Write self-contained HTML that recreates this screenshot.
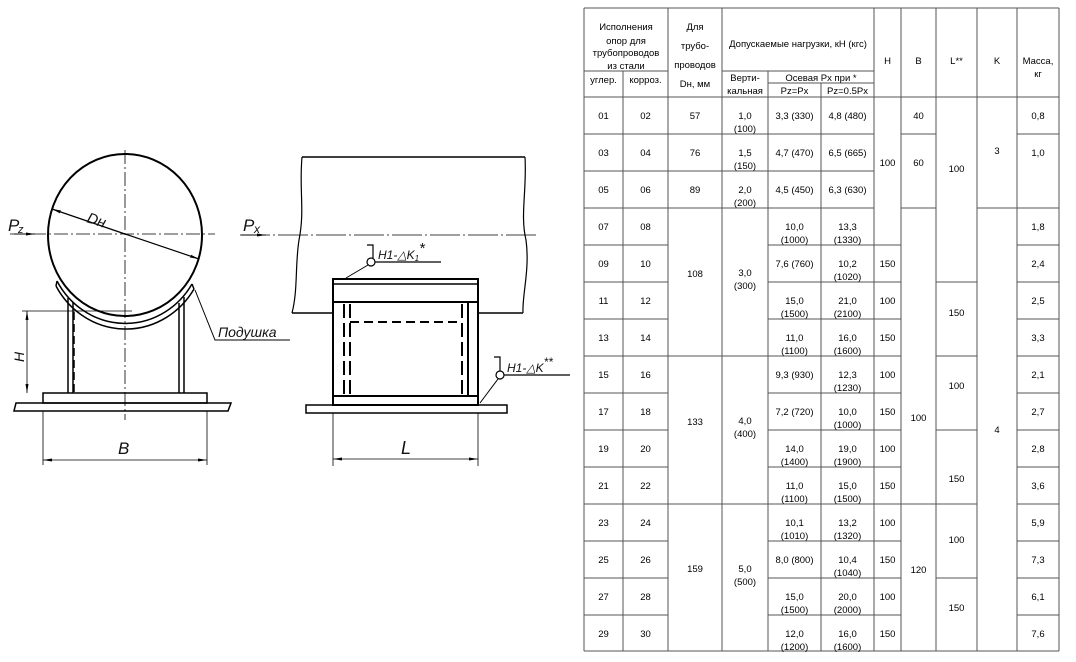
<!DOCTYPE html>
<html><head><meta charset="utf-8"><style>
html,body{margin:0;padding:0;background:#fff;}
svg{display:block;}
.t text{font-family:"Liberation Sans",sans-serif;font-size:9.5px;fill:#000;text-anchor:middle;}
.d text{font-family:"Liberation Sans",sans-serif;font-style:italic;fill:#111;}
</style></head><body>
<svg width="1076" height="662" viewBox="0 0 1076 662" xmlns="http://www.w3.org/2000/svg">
<defs>
<marker id="ar" markerWidth="10" markerHeight="6" refX="9" refY="3" orient="auto" markerUnits="userSpaceOnUse"><path d="M0,1.5 L9,3 L0,4.5 z" fill="#000"/></marker>
<marker id="al" markerWidth="10" markerHeight="6" refX="1" refY="3" orient="auto" markerUnits="userSpaceOnUse"><path d="M10,1.5 L1,3 L10,4.5 z" fill="#000"/></marker>
</defs>

<!-- LEFT VIEW -->
<g class="d" stroke="#000" fill="none">
<line x1="125" y1="150" x2="125" y2="420" stroke-width="0.8" stroke-dasharray="14,3,2,3"/>
<line x1="10" y1="234" x2="215" y2="234" stroke-width="0.8" stroke-dasharray="14,3,2,3"/>
<ellipse cx="125" cy="235" rx="77" ry="81" stroke-width="2"/>
<line x1="52" y1="209" x2="125" y2="234" stroke-width="1.2" marker-start="url(#al)"/>
<line x1="125" y1="234" x2="199" y2="259" stroke-width="1.2" marker-end="url(#ar)"/>
<path d="M57,281 A78,82 0 0 0 192,284" stroke-width="1.5"/>
<path d="M56,286 A80,84 0 0 0 194,289" stroke-width="1.5"/>
<line x1="56" y1="286" x2="57" y2="281" stroke-width="1.5"/>
<line x1="194" y1="289" x2="192" y2="284" stroke-width="1.5"/>
<line x1="68" y1="298" x2="68" y2="393" stroke-width="1.5"/>
<line x1="73" y1="302" x2="73" y2="393" stroke-width="1.5"/>
<line x1="74" y1="312" x2="74" y2="393" stroke-width="1.5" stroke-dasharray="8,4"/>
<line x1="179" y1="303" x2="179" y2="393" stroke-width="1.5"/>
<line x1="184" y1="297" x2="184" y2="393" stroke-width="1.5"/>
<rect x="43" y="393" width="164" height="10" stroke-width="1.5"/>
<path d="M16,403 L231,403 L228,411 L14,411 Z" stroke-width="1.5"/>
<line x1="22" y1="311" x2="132" y2="311" stroke-width="0.8"/>
<line x1="27" y1="311" x2="27" y2="393" stroke-width="0.8" marker-start="url(#al)" marker-end="url(#ar)"/>
<line x1="43" y1="411" x2="43" y2="465" stroke-width="0.8"/>
<line x1="207" y1="411" x2="207" y2="465" stroke-width="0.8"/>
<line x1="43" y1="460" x2="207" y2="460" stroke-width="0.8" marker-start="url(#al)" marker-end="url(#ar)"/>
<polyline points="195,290 215,340 290,340" stroke-width="1"/>
<line x1="14" y1="234" x2="35" y2="234" stroke-width="1" marker-end="url(#ar)"/>
</g>
<g class="d">
<text x="8" y="231" font-size="17">P</text><text x="18" y="233" font-size="11">z</text>
<text x="86" y="222" font-size="15" transform="rotate(18 86 222)">Dн</text>
<text x="24" y="362" font-size="14" transform="rotate(-90 24 362)">H</text>
<text x="118" y="454" font-size="17">B</text>
<text x="218" y="337" font-size="14">Подушка</text>
</g>

<!-- RIGHT VIEW -->
<g stroke="#000" fill="none">
<line x1="302" y1="157" x2="525" y2="157" stroke-width="1.5"/>
<path d="M302,157 C299,190 305,210 299,240 C295,265 298,290 292,313" stroke-width="1.2"/>
<path d="M525,157 C527,190 520,215 526,240 C530,270 522,295 523,313" stroke-width="1.2"/>
<line x1="292" y1="313" x2="333" y2="313" stroke-width="1.5"/>
<line x1="478" y1="313" x2="523" y2="313" stroke-width="1.5"/>
<line x1="240" y1="235" x2="538" y2="235" stroke-width="0.8" stroke-dasharray="30,3,2,3"/>
<line x1="241" y1="235" x2="266" y2="235" stroke-width="1" marker-end="url(#ar)"/>
<rect x="333" y="279" width="145" height="126" stroke-width="2"/>
<line x1="333" y1="284" x2="478" y2="284" stroke-width="1.5"/>
<line x1="333" y1="302" x2="478" y2="302" stroke-width="2"/>
<line x1="333" y1="396" x2="478" y2="396" stroke-width="2"/>
<line x1="350" y1="322" x2="462" y2="322" stroke-width="2" stroke-dasharray="9,5"/>
<line x1="344" y1="304" x2="344" y2="395" stroke-width="2" stroke-dasharray="14,5"/>
<line x1="350" y1="304" x2="350" y2="395" stroke-width="2" stroke-dasharray="14,5"/>
<line x1="462" y1="304" x2="462" y2="395" stroke-width="2" stroke-dasharray="14,5"/>
<line x1="468" y1="302" x2="468" y2="396" stroke-width="2"/>
<rect x="306" y="405" width="201" height="8" stroke-width="1.5"/>
<line x1="333" y1="413" x2="333" y2="466" stroke-width="0.8"/>
<line x1="478" y1="413" x2="478" y2="466" stroke-width="0.8"/>
<line x1="333" y1="459" x2="478" y2="459" stroke-width="0.8" marker-start="url(#al)" marker-end="url(#ar)"/>
<circle cx="371" cy="262" r="4" stroke-width="1.2"/>
<polyline points="367,245 373,245 373,258" stroke-width="1.2"/>
<line x1="375" y1="262" x2="441" y2="262" stroke-width="1.2"/>
<line x1="368" y1="265" x2="346" y2="278" stroke-width="1"/>
<circle cx="500" cy="375" r="4" stroke-width="1.2"/>
<polyline points="494,357 500,357 500,371" stroke-width="1.2"/>
<line x1="504" y1="375" x2="570" y2="375" stroke-width="1.2"/>
<line x1="498" y1="379" x2="480" y2="403" stroke-width="1"/>
</g>
<g class="d">
<text x="243" y="231" font-size="17">P</text><text x="254" y="233" font-size="12">x</text>
<text x="378" y="259" font-size="12">H1-△K<tspan font-size="8" dy="2">1</tspan><tspan font-size="15" dy="-8">*</tspan></text>
<text x="507" y="372" font-size="12">H1-△K<tspan font-size="12" dy="-6">**</tspan></text>
<text x="401" y="454" font-size="18">L</text>
</g>

<!-- TABLE -->
<g stroke="#555" stroke-width="1" fill="none">
<line x1="584" y1="8" x2="584" y2="651"/>
<line x1="623" y1="71" x2="623" y2="651"/>
<line x1="668" y1="8" x2="668" y2="651"/>
<line x1="722" y1="8" x2="722" y2="651"/>
<line x1="768" y1="71" x2="768" y2="651"/>
<line x1="821" y1="83" x2="821" y2="651"/>
<line x1="874" y1="8" x2="874" y2="651"/>
<line x1="901" y1="8" x2="901" y2="651"/>
<line x1="936" y1="8" x2="936" y2="651"/>
<line x1="977" y1="8" x2="977" y2="651"/>
<line x1="1017" y1="8" x2="1017" y2="651"/>
<line x1="1059" y1="8" x2="1059" y2="651"/>
<line x1="584" y1="8" x2="1059" y2="8"/>
<line x1="584" y1="71" x2="668" y2="71"/>
<line x1="722" y1="71" x2="874" y2="71"/>
<line x1="768" y1="83" x2="874" y2="83"/>
<line x1="584" y1="97" x2="1059" y2="97"/>
<line x1="584" y1="651" x2="1059" y2="651"/>
<path d="M584,134H874M901,134H936M1017,134H1059"/>
<path d="M584,171H874"/>
<path d="M584,208H874M901,208H936M977,208H1059"/>
<path d="M584,245H668M768,245H901M1017,245H1059"/>
<path d="M584,282H668M768,282H901M936,282H977M1017,282H1059"/>
<path d="M584,319H668M768,319H901M1017,319H1059"/>
<path d="M584,356H901M936,356H977M1017,356H1059"/>
<path d="M584,393H668M768,393H901M1017,393H1059"/>
<path d="M584,430H668M768,430H901M936,430H977M1017,430H1059"/>
<path d="M584,467H668M768,467H901M1017,467H1059"/>
<path d="M584,504H977M1017,504H1059"/>
<path d="M584,541H668M768,541H901M1017,541H1059"/>
<path d="M584,578H668M768,578H901M936,578H977M1017,578H1059"/>
<path d="M584,615H668M768,615H901M1017,615H1059"/>
</g>
<g class="t">
<text x="626" y="30">Исполнения</text><text x="626" y="44">опор для</text><text x="626" y="56">трубопроводов</text><text x="626" y="69">из стали</text>
<text x="603.5" y="83">углер.</text><text x="645.5" y="83">корроз.</text>
<text x="695" y="30">Для</text><text x="695" y="49">трубо-</text><text x="695" y="68">проводов</text><text x="695" y="87">Dн, мм</text>
<text x="798" y="47">Допускаемые нагрузки, кН (кгс)</text>
<text x="745" y="81">Верти-</text><text x="745" y="94">кальная</text>
<text x="821" y="81">Осевая Рх при *</text>
<text x="794.5" y="94">Pz=Px</text><text x="847.5" y="94">Pz=0.5Px</text>
<text x="887.5" y="64">H</text><text x="918.5" y="64">B</text><text x="956.5" y="64">L**</text><text x="997" y="64">K</text>
<text x="1038" y="64">Масса,</text><text x="1038" y="77">кг</text>

<text x="603.5" y="119">01</text><text x="645.5" y="119">02</text><text x="695" y="119">57</text><text x="745" y="119">1,0</text><text x="745" y="132">(100)</text><text x="794.5" y="119">3,3 (330)</text><text x="847.5" y="119">4,8 (480)</text><text x="1038" y="119">0,8</text>
<text x="603.5" y="156">03</text><text x="645.5" y="156">04</text><text x="695" y="156">76</text><text x="745" y="156">1,5</text><text x="745" y="169">(150)</text><text x="794.5" y="156">4,7 (470)</text><text x="847.5" y="156">6,5 (665)</text><text x="1038" y="156">1,0</text>
<text x="603.5" y="193">05</text><text x="645.5" y="193">06</text><text x="695" y="193">89</text><text x="745" y="193">2,0</text><text x="745" y="206">(200)</text><text x="794.5" y="193">4,5 (450)</text><text x="847.5" y="193">6,3 (630)</text>

<text x="603.5" y="230">07</text><text x="645.5" y="230">08</text><text x="794.5" y="230">10,0</text><text x="794.5" y="243">(1000)</text><text x="847.5" y="230">13,3</text><text x="847.5" y="243">(1330)</text><text x="1038" y="230">1,8</text>
<text x="603.5" y="267">09</text><text x="645.5" y="267">10</text><text x="794.5" y="267">7,6 (760)</text><text x="847.5" y="267">10,2</text><text x="847.5" y="280">(1020)</text><text x="887.5" y="267">150</text><text x="1038" y="267">2,4</text>
<text x="603.5" y="304">11</text><text x="645.5" y="304">12</text><text x="794.5" y="304">15,0</text><text x="794.5" y="317">(1500)</text><text x="847.5" y="304">21,0</text><text x="847.5" y="317">(2100)</text><text x="887.5" y="304">100</text><text x="1038" y="304">2,5</text>
<text x="603.5" y="341">13</text><text x="645.5" y="341">14</text><text x="794.5" y="341">11,0</text><text x="794.5" y="354">(1100)</text><text x="847.5" y="341">16,0</text><text x="847.5" y="354">(1600)</text><text x="887.5" y="341">150</text><text x="1038" y="341">3,3</text>
<text x="603.5" y="378">15</text><text x="645.5" y="378">16</text><text x="794.5" y="378">9,3 (930)</text><text x="847.5" y="378">12,3</text><text x="847.5" y="391">(1230)</text><text x="887.5" y="378">100</text><text x="1038" y="378">2,1</text>
<text x="603.5" y="415">17</text><text x="645.5" y="415">18</text><text x="794.5" y="415">7,2 (720)</text><text x="847.5" y="415">10,0</text><text x="847.5" y="428">(1000)</text><text x="887.5" y="415">150</text><text x="1038" y="415">2,7</text>
<text x="603.5" y="452">19</text><text x="645.5" y="452">20</text><text x="794.5" y="452">14,0</text><text x="794.5" y="465">(1400)</text><text x="847.5" y="452">19,0</text><text x="847.5" y="465">(1900)</text><text x="887.5" y="452">100</text><text x="1038" y="452">2,8</text>
<text x="603.5" y="489">21</text><text x="645.5" y="489">22</text><text x="794.5" y="489">11,0</text><text x="794.5" y="502">(1100)</text><text x="847.5" y="489">15,0</text><text x="847.5" y="502">(1500)</text><text x="887.5" y="489">150</text><text x="1038" y="489">3,6</text>
<text x="603.5" y="526">23</text><text x="645.5" y="526">24</text><text x="794.5" y="526">10,1</text><text x="794.5" y="539">(1010)</text><text x="847.5" y="526">13,2</text><text x="847.5" y="539">(1320)</text><text x="887.5" y="526">100</text><text x="1038" y="526">5,9</text>
<text x="603.5" y="563">25</text><text x="645.5" y="563">26</text><text x="794.5" y="563">8,0 (800)</text><text x="847.5" y="563">10,4</text><text x="847.5" y="576">(1040)</text><text x="887.5" y="563">150</text><text x="1038" y="563">7,3</text>
<text x="603.5" y="600">27</text><text x="645.5" y="600">28</text><text x="794.5" y="600">15,0</text><text x="794.5" y="613">(1500)</text><text x="847.5" y="600">20,0</text><text x="847.5" y="613">(2000)</text><text x="887.5" y="600">100</text><text x="1038" y="600">6,1</text>
<text x="603.5" y="637">29</text><text x="645.5" y="637">30</text><text x="794.5" y="637">12,0</text><text x="794.5" y="650">(1200)</text><text x="847.5" y="637">16,0</text><text x="847.5" y="650">(1600)</text><text x="887.5" y="637">150</text><text x="1038" y="637">7,6</text>

<text x="887.5" y="166">100</text>
<text x="918.5" y="119">40</text><text x="918.5" y="166">60</text><text x="918.5" y="421">100</text><text x="918.5" y="573">120</text>
<text x="956.5" y="172">100</text><text x="956.5" y="316">150</text><text x="956.5" y="389">100</text><text x="956.5" y="482">150</text><text x="956.5" y="543">100</text><text x="956.5" y="611">150</text>
<text x="997" y="154">3</text><text x="997" y="433">4</text>
<text x="695" y="277">108</text><text x="695" y="425">133</text><text x="695" y="572">159</text>
<text x="745" y="276">3,0</text><text x="745" y="289">(300)</text>
<text x="745" y="424">4,0</text><text x="745" y="437">(400)</text>
<text x="745" y="572">5,0</text><text x="745" y="585">(500)</text>
</g>
</svg>
</body></html>
